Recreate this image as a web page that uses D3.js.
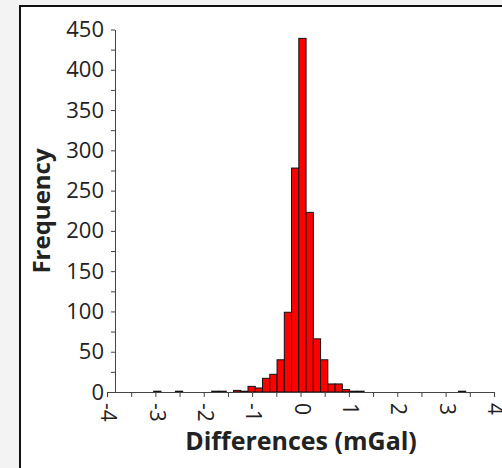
<!DOCTYPE html>
<html>
<head>
<meta charset="utf-8">
<script src="https://cdn.jsdelivr.net/npm/d3@7"></script>
<style>
	body { margin: 0; background: #f3f3f3; overflow: hidden; }
	svg text { font-family: "Open Sans", sans-serif; fill: #222; }
	.axis path, .axis line { stroke: #444; }
</style>
</head>
<body>
<div id="chart"></div>
<script>
// Histogram data
// left edge of each bin (mGal), all bins are 0.15 wide
var binStart = [-3.035, -2.585, -1.835, -1.685, -1.385, -1.235, -1.085, -0.935,
	-0.785, -0.635, -0.485, -0.335, -0.185, -0.035, 0.115, 0.265, 0.415, 0.565,
	0.715, 0.865, 1.015, 1.165, 3.265];
var binWidth = 0.15;
// how many differences fall in each bin
var counts = [1, 1, 1, 1, 2, 1, 7, 5, 17, 22, 40, 99, 278, 439, 223, 66, 40, 10,
	10, 3, 1, 1, 1];

// tick values for both axes
var xTicks = [-4, -3.5, -3, -2.5, -2, -1.5, -1, -0.5, 0, 0.5, 1, 1.5, 2, 2.5, 3, 3.5, 4];
var yTicks = [0, 25, 50, 75, 100, 125, 150, 175, 200, 225, 250, 275, 300, 325, 350, 375, 400, 425, 450];

var width = 502;
var height = 468;

var svg = d3
	.select("#chart")
	.append("svg")
	.attr("width", width)
	.attr("height", height);

// white framed panel
svg.append("rect")
	.attr("x", 20)
	.attr("y", 6)
	.attr("width", 500)
	.attr("height", 480)
	.attr("fill", "#fff")
	.attr("stroke", "#111")
	.attr("stroke-width", 2);

// scales
var xScale = d3.scaleLinear().domain([-4, 4]).range([107, 494]);
var yScale = d3.scaleLinear().domain([0, 450]).range([392, 29.5]);

// bars
svg.append("g")
	.selectAll("rect")
	.data(counts)
	.enter()
	.append("rect")
	.attr("x", function(d, i) { return xScale(binStart[i]); })
	.attr("width", function(d, i) { return xScale(binStart[i] + binWidth) - xScale(binStart[i]); })
	.attr("y", function(d) { return yScale(d); })
	.attr("height", function(d) { return yScale(0) - yScale(d); })
	.attr("fill", "#ff0000")
	.attr("stroke", "#111")
	.attr("stroke-width", 1);

// Bottom axis, labels only on whole numbers, turned sideways
var xAxis = d3.axisBottom(xScale)
	.tickValues(xTicks)
	.tickSize(5)
	.tickSizeOuter(0)
	.tickFormat(function(d) { return d % 1 === 0 ? d : ""; });

var xG = svg.append("g")
	.attr("class", "axis")
	.attr("transform", "translate(0,392)")
	.call(xAxis)
	.attr("font-family", null)
	.attr("font-size", null);

xG.selectAll("text")
	.attr("x", 11)
	.attr("y", 0)
	.attr("dy", "0.3em")
	.attr("transform", "rotate(90)")
	.style("text-anchor", "start")
	.style("font-size", "21px");

// Left axis, minor ticks every 25
var yAxis = d3.axisLeft(yScale)
	.tickValues(yTicks)
	.tickSize(4)
	.tickSizeOuter(0)
	.tickPadding(7)
	.tickFormat(function(d) { return d % 50 === 0 ? d : ""; });

var yG = svg.append("g")
	.attr("class", "axis")
	.attr("transform", "translate(115,0)")
	.call(yAxis)
	.attr("font-family", null)
	.attr("font-size", null);

yG.selectAll("text").style("font-size", "22px");

// axis titles
svg.append("text")
	.attr("x", 301)
	.attr("y", 450)
	.attr("text-anchor", "middle")
	.style("font-size", "25px")
	.style("font-weight", "bold")
	.text("Differences (mGal)");

svg.append("text")
	.attr("transform", "translate(50,211)rotate(-90)")
	.attr("text-anchor", "middle")
	.style("font-size", "24px")
	.style("font-weight", "bold")
	.text("Frequency");
</script>
</body>
</html>
